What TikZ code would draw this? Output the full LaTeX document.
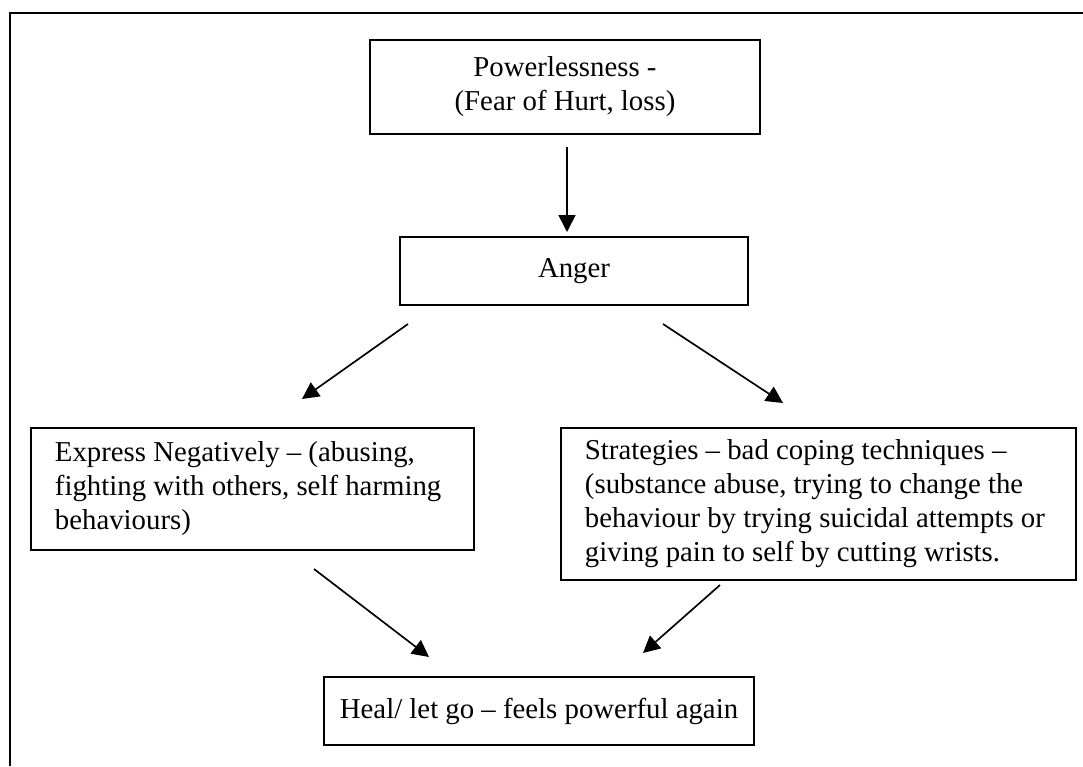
\documentclass[tikz,border=0pt]{standalone}
\usepackage{fontspec}
\setmainfont{Liberation Serif}
\usetikzlibrary{positioning, arrows.meta}
\tikzset{%
  box/.style={draw, line width=0.8pt, inner sep=0pt, font=\fontsize{12}{14.2}\selectfont},
  sidebox/.style={box, anchor=north west, align=flush left, inner xsep=10pt, inner ysep=4.5pt},
  link/.style={-{Triangle[length=7pt, width=7pt]}, line width=0.7pt}
}

\begin{document}
\begin{tikzpicture}[x=0.4167pt, y=-0.4167pt]
\useasboundingbox (0,0) rectangle (1083,766);

% frame, cut off at right and bottom
\draw[line width=0.9pt] (1083,13) -- (10,13) -- (10,766);

\node[box, minimum width=390*0.4167pt, minimum height=94*0.4167pt, align=center] (power) at (565,87) {Powerlessness -\\ (Fear of Hurt, loss)};
\node[box, minimum width=348*0.4167pt, minimum height=68*0.4167pt] (anger) at (574,271) {Anger};

\node[sidebox, text width=395*0.4167pt, minimum height=122*0.4167pt] (neg) at (30,427) {Express Negatively -- (abusing, fighting with others, self harming behaviours)};
\node[sidebox, text width=467*0.4167pt, minimum height=152*0.4167pt] (strat) at (560,427) {Strategies -- bad coping techniques -- (substance abuse, trying to change the behaviour by trying suicidal attempts or giving pain to self by cutting wrists.};

\node[box, minimum width=430*0.4167pt, minimum height=68*0.4167pt] (heal) at (539,711) {Heal/ let go -- feels powerful again};

\coordinate (a1) at (567,147);
\coordinate (a2) at (567,232);
\coordinate (b1) at (408,324);
\coordinate (b2) at (302,399);
\coordinate (c1) at (663,324);
\coordinate (c2) at (783,403);
\coordinate (d1) at (314,569);
\coordinate (d2) at (429,657);
\coordinate (e1) at (720,585);
\coordinate (e2) at (643,653);

\draw[link] (a1) -- (a2);
\draw[link] (b1) -- (b2);
\draw[link] (c1) -- (c2);
\draw[link] (d1) -- (d2);
\draw[link] (e1) -- (e2);
\end{tikzpicture}
\end{document}
